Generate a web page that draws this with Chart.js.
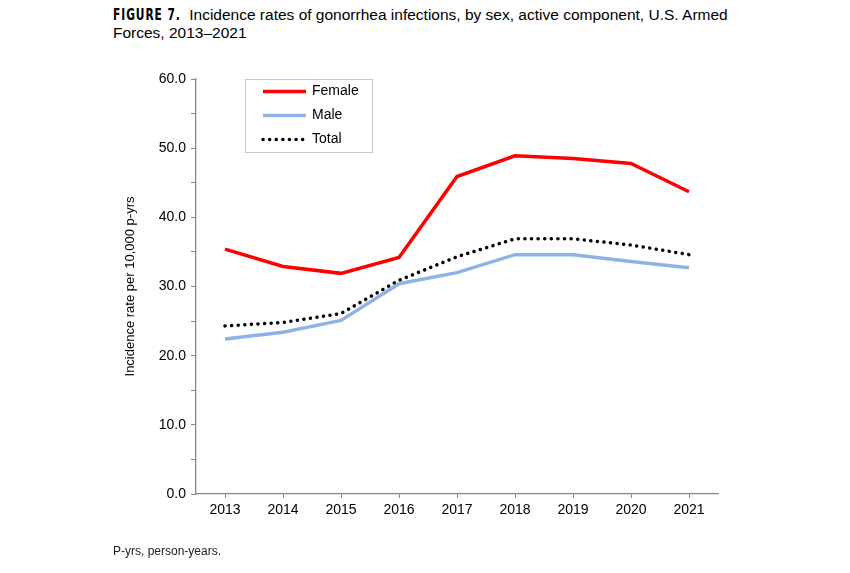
<!DOCTYPE html>
<html>
<head>
<meta charset="utf-8">
<script src="https://cdn.jsdelivr.net/npm/chart.js@4"></script>
<style>
  body { margin: 0; background: #fff; font-family: "Liberation Sans", Arial, sans-serif; }
  #wrap { position: relative; width: 850px; height: 573px; }
  #title { position: absolute; left: 113px; top: 6px; font-size: 15.5px; line-height: 18px; color: #000; white-space: nowrap; }
  #title b { display: inline-block; font-family: "DejaVu Sans Condensed", sans-serif; font-size: 15px; letter-spacing: 1.2px;
             transform: scaleX(0.79); transform-origin: left; margin-right: -14px; }
  #note { position: absolute; left: 113px; top: 544px; font-size: 12px; color: #222; }
  canvas { position: absolute; left: 0; top: 0; }
</style>
</head>
<body>
<div id="wrap">
  <div id="title"><b>FIGURE 7.</b> Incidence rates of gonorrhea infections, by sex, active component, U.S. Armed<br>Forces, 2013–2021</div>
  <canvas id="rates" width="850" height="573"></canvas>
  <div id="note">P-yrs, person-years.</div>
</div>
<script>
const years = ["2013", "2014", "2015", "2016", "2017", "2018", "2019", "2020", "2021"];
const female = [35.4, 32.9, 31.9, 34.2, 45.9, 48.9, 48.5, 47.8, 43.7];
const male = [22.4, 23.4, 25.1, 30.4, 32.0, 34.6, 34.6, 33.6, 32.7];
const total = [24.3, 24.8, 26.1, 30.9, 34.3, 36.9, 36.9, 36.0, 34.6];

const font = "Liberation Sans, Arial, sans-serif";
const axisGray = "#868686";

// legend box drawn inside the plot, top left
const boxLegend = {
  id: "boxLegend",
  afterDraw(chart) {
    const c = chart.ctx;
    const x = 245, y = 79, w = 127, h = 73;
    c.save();
    c.fillStyle = "#fff";
    c.fillRect(x, y, w, h);
    c.strokeStyle = "#c8c8c8";
    c.lineWidth = 1;
    c.strokeRect(x + 0.5, y + 0.5, w, h);
    chart.data.datasets.forEach((ds, i) => {
      const ly = 91.5 + i * 24;
      c.beginPath();
      c.strokeStyle = ds.borderColor;
      c.lineWidth = ds.borderWidth;
      c.lineCap = ds.borderCapStyle || "butt";
      c.setLineDash(ds.borderDash || []);
      c.moveTo(263, ly);
      c.lineTo(306, ly);
      c.stroke();
      c.setLineDash([]);
      c.fillStyle = "#000";
      c.font = "14px " + font;
      c.textBaseline = "middle";
      c.fillText(ds.label, 312, ly);
    });
    c.restore();
  }
};

new Chart(document.getElementById("rates"), {
  type: "line",
  data: {
    labels: years,
    datasets: [
      { label: "Female", data: female, borderColor: "#ff0000", borderWidth: 3.5, pointRadius: 0, tension: 0 },
      { label: "Male", data: male, borderColor: "#8db4e2", borderWidth: 3.5, pointRadius: 0, tension: 0 },
      { label: "Total", data: total, borderColor: "#000000", borderWidth: 3.5, borderDash: [0.1, 6.5],
        borderCapStyle: "round", pointRadius: 0, tension: 0 }
    ]
  },
  options: {
    responsive: false,
    animation: false,
    layout: { padding: { left: 110, top: 79, right: 132, bottom: 34 } },
    plugins: { legend: { display: false }, tooltip: { enabled: false } },
    scales: {
      x: {
        offset: true,
        afterFit(scale) { scale.height = 45; },
        border: { color: axisGray, width: 1.3 },
        grid: { drawOnChartArea: false, tickLength: 4, color: axisGray },
        ticks: { color: "#000", font: { family: font, size: 14 }, padding: 4 }
      },
      y: {
        min: 0,
        max: 60,
        afterFit(scale) { scale.width = 86; },
        border: { color: axisGray, width: 1.3 },
        grid: { drawOnChartArea: false, tickLength: 5, color: axisGray },
        ticks: {
          stepSize: 5,
          color: "#000",
          font: { family: font, size: 14 },
          padding: 5,
          callback: v => (v % 10 === 0 ? v.toFixed(1) : "")
        },
        title: {
          display: true,
          text: "Incidence rate per 10,000 p-yrs",
          color: "#000",
          font: { family: font, size: 13 },
          padding: { top: 13, bottom: 0 }
        }
      }
    }
  },
  plugins: [boxLegend]
});
</script>
</body>
</html>
